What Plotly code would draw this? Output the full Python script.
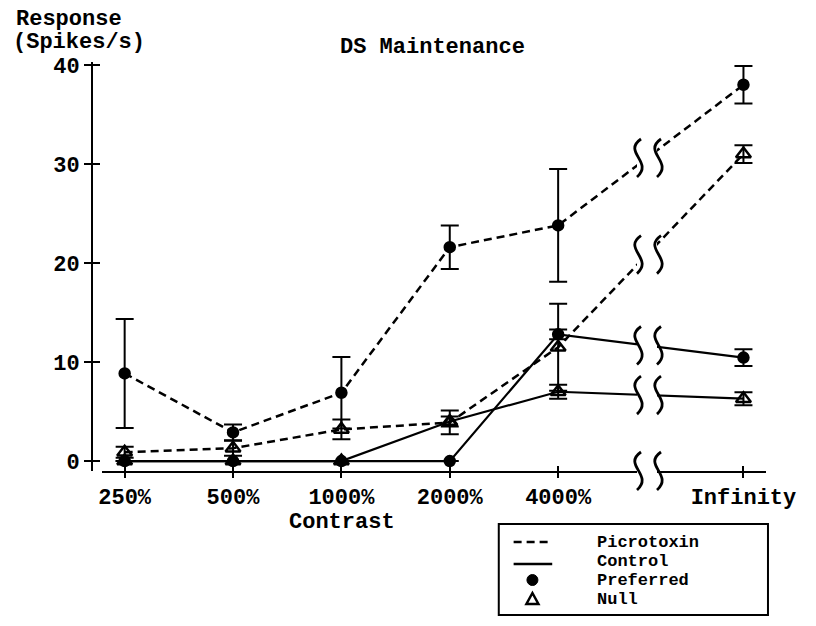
import numpy as np
import plotly.graph_objects as go

# ---------------- data ----------------
categories = ["250%", "500%", "1000%", "2000%", "4000%", "Infinity"]
contrast_finite = [250, 500, 1000, 2000, 4000]

pic_pref = [8.85, 2.9, 6.9, 21.6, 23.8, 38.0]
pic_pref_err = [5.5, 0.8, 3.6, 2.2, 5.7, 1.9]
pic_null = [0.9, 1.3, 3.2, 3.9, 11.5, 31.0]
pic_null_err = [0.55, 0.75, 1.0, 1.2, 4.4, 0.9]
ctl_pref = [0, 0, 0, 0, 12.8, 10.45]
ctl_pref_err = [None, None, None, None, 0.5, 0.85]
ctl_null = [0, 0, 0, 4.0, 7.0, 6.3]
ctl_null_err = [None, None, None, 0.5, 0.7, 0.65]

y_ticks = [0, 10, 20, 30, 40]
legend_labels = ["Picrotoxin", "Control", "Preferred", "Null"]

# ---------------- layout constants ----------------
PAGE_OFF = 8                      # default page margin of the html body
FIG_W, FIG_H = 816 - 2 * PAGE_OFF, 626 - 2 * PAGE_OFF
PLOT_X0, PLOT_X1 = 92, 773        # plot area in window pixels
PLOT_Y0, PLOT_Y1 = 62, 471
L = PLOT_X0 - PAGE_OFF
T = PLOT_Y0 - PAGE_OFF
R = FIG_W - (PLOT_X1 - PAGE_OFF)
B = FIG_H - (PLOT_Y1 - PAGE_OFF)
PLOT_W = PLOT_X1 - PLOT_X0
PLOT_H = PLOT_Y1 - PLOT_Y0
INF_POS = 5.71
BREAK_POS = 4.82
X_RANGE = [-0.21, 5.918]
Y_RANGE = [-1.0, 40.3]
FONT = dict(family="Liberation Mono, DejaVu Sans Mono, monospace", size=22, color="black", weight="bold")
LEG_FONT = dict(FONT, size=17)


def paper_x(px):
    return (px - PLOT_X0) / PLOT_W


def paper_y(py):
    return (PLOT_Y1 - py) / PLOT_H


x_pos = list(np.log2(np.array(contrast_finite) / 250.0)) + [INF_POS]

fig = go.Figure()

series = [
    (pic_pref, pic_pref_err, "8px,5px", "circle", 10),
    (pic_null, pic_null_err, "8px,5px", "triangle-up-open", 13),
    (ctl_pref, ctl_pref_err, "solid", "circle", 10),
    (ctl_null, ctl_null_err, "solid", "triangle-up-open", 13),
]

for vals, errs, dash, sym, msize in series:
    fig.add_trace(go.Scatter(
        x=x_pos, y=vals, mode="lines+markers",
        line=dict(color="black", width=2.5 if dash != "solid" else 2.2, dash=dash),
        marker=dict(symbol=sym, size=msize, color="black", line=dict(color="black", width=2.5)),
        error_y=dict(type="data", array=errs, visible=True, color="black", thickness=2, width=9),
        showlegend=False, cliponaxis=False, hoverinfo="skip",
    ))

# helper trace so the overlaid tick axes (crossing ticks) are drawn
fig.add_trace(go.Scatter(x=[x_pos[0]], y=[pic_pref[0]], xaxis="x2", yaxis="y2", mode="markers",
                         marker=dict(opacity=0), showlegend=False, hoverinfo="skip"))

shapes = []


def stroke_path(dx):
    return f"M {dx+4},19 C {dx-15},6 {dx+17},-4 {dx},-19"


def add_break(xref, yref, xa, ya):
    shapes.append(dict(type="rect", xref=xref, yref=yref, xsizemode="pixel", ysizemode="pixel",
                       xanchor=xa, yanchor=ya, x0=-10, x1=10, y0=-13, y1=13,
                       fillcolor="white", line=dict(width=0), layer="above"))
    for dx in (-10, 10):
        shapes.append(dict(type="path", xref=xref, yref=yref, xsizemode="pixel", ysizemode="pixel",
                           xanchor=xa, yanchor=ya, path=stroke_path(dx),
                           line=dict(color="black", width=2.8), layer="above"))


frac = (BREAK_POS - x_pos[4]) / (x_pos[5] - x_pos[4])
for vals, *_ in series:
    yb = vals[4] + (vals[5] - vals[4]) * frac
    add_break("x", "y", BREAK_POS, yb)
add_break("x", "paper", BREAK_POS, 0)

# ---------------- legend (custom) ----------------
rows_y = [542, 561, 580, 599]
shapes.append(dict(type="rect", xref="paper", yref="paper",
                   x0=paper_x(503), x1=paper_x(775), y0=paper_y(615), y1=paper_y(524),
                   line=dict(color="black", width=2), fillcolor="white", layer="above"))
shapes.append(dict(type="line", xref="paper", yref="paper",
                   x0=paper_x(518), x1=paper_x(557), y0=paper_y(rows_y[0]), y1=paper_y(rows_y[0]),
                   line=dict(color="black", width=2.5, dash="8px,5px"), layer="above"))
shapes.append(dict(type="line", xref="paper", yref="paper",
                   x0=paper_x(518), x1=paper_x(557), y0=paper_y(rows_y[1] + 3), y1=paper_y(rows_y[1] + 3),
                   line=dict(color="black", width=2.5), layer="above"))
shapes.append(dict(type="circle", xref="paper", yref="paper", xsizemode="pixel", ysizemode="pixel",
                   xanchor=paper_x(537), yanchor=paper_y(rows_y[2]), x0=-5.5, x1=5.5, y0=-5.5, y1=5.5,
                   fillcolor="black", line=dict(color="black", width=1), layer="above"))
shapes.append(dict(type="path", xref="paper", yref="paper", xsizemode="pixel", ysizemode="pixel",
                   xanchor=paper_x(537), yanchor=paper_y(rows_y[3]),
                   path="M -6,-5 L 6,-5 L 0,6 Z",
                   line=dict(color="black", width=2.5), layer="above"))

annotations = []
for txt, py in zip(legend_labels, rows_y):
    annotations.append(dict(text=txt, xref="paper", yref="paper", x=paper_x(600), y=paper_y(py),
                            xanchor="left", yanchor="middle", showarrow=False, font=LEG_FONT))

annotations += [
    dict(text="DS Maintenance", xref="paper", yref="paper", x=paper_x(436), y=paper_y(47),
         xanchor="center", yanchor="middle", showarrow=False, font=FONT),
    dict(text="Response", xref="paper", yref="paper", x=paper_x(13), y=paper_y(19),
         xanchor="left", yanchor="middle", showarrow=False, font=FONT),
    dict(text="(Spikes/s)", xref="paper", yref="paper", x=paper_x(10), y=paper_y(42),
         xanchor="left", yanchor="middle", showarrow=False, font=FONT),
    dict(text="Contrast", xref="paper", yref="paper", x=paper_x(345), y=paper_y(522),
         xanchor="center", yanchor="middle", showarrow=False, font=FONT),
]

fig.update_layout(
    width=FIG_W, height=FIG_H, autosize=False,
    margin=dict(l=L, r=R, t=T, b=B, pad=0),
    paper_bgcolor="white", plot_bgcolor="white",
    font=FONT,
    xaxis=dict(domain=[10 / PLOT_W, 1], range=X_RANGE, anchor="y",
               showline=True, linecolor="black", linewidth=2,
               ticks="outside", ticklen=5, tickwidth=2, tickcolor="black",
               tickvals=x_pos, ticktext=categories, tickfont=FONT,
               showgrid=False, zeroline=False),
    xaxis2=dict(overlaying="x", range=X_RANGE, anchor="y", side="bottom",
                showline=False, ticks="inside", ticklen=5, tickwidth=2, tickcolor="black",
                tickvals=x_pos, showticklabels=False, showgrid=False, zeroline=False),
    yaxis=dict(domain=[0, 1], range=Y_RANGE, anchor="free", position=0,
               showline=True, linecolor="black", linewidth=2,
               ticks="outside", ticklen=7, tickwidth=2, tickcolor="black",
               tickvals=y_ticks, tickfont=FONT,
               showgrid=False, zeroline=False),
    yaxis2=dict(overlaying="y", range=Y_RANGE, anchor="free", position=0, side="left",
                showline=False, ticks="inside", ticklen=7, tickwidth=2, tickcolor="black",
                tickvals=y_ticks, showticklabels=False, showgrid=False, zeroline=False),
    shapes=shapes,
    annotations=annotations,
)

fig.write_html("out.html")
